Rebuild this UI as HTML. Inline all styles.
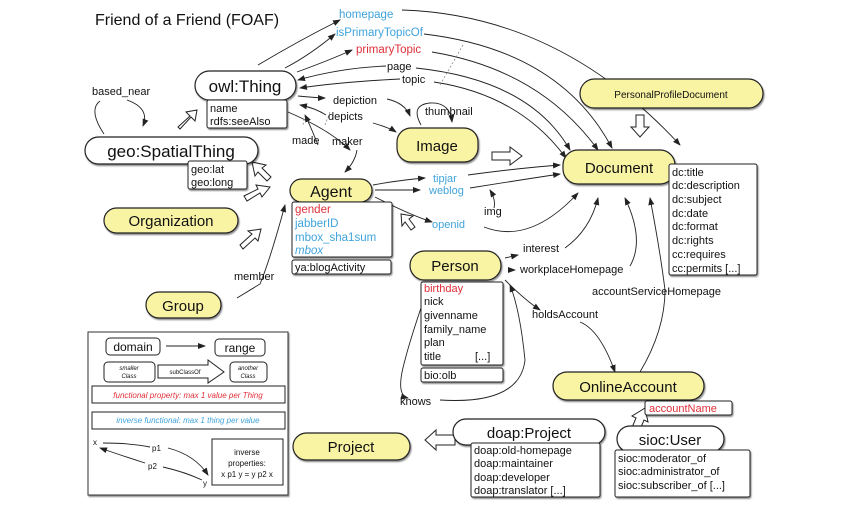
<!DOCTYPE html>
<html><head><meta charset="utf-8"><style>
html,body{margin:0;padding:0;background:#fff;}
svg{display:block;font-family:"Liberation Sans",sans-serif;}
.y{fill:#f9f4a4;stroke:#222;stroke-width:1.2}
.w{fill:#fff;stroke:#222;stroke-width:1.2}
.b{fill:#fff;stroke:#222;stroke-width:1}
.l{fill:none;stroke:#222;stroke-width:0.9}
.d{fill:none;stroke:#888;stroke-width:0.8;stroke-dasharray:2 2}
.h{fill:#fff;stroke:#222;stroke-width:1}
text{fill:#111}
.bl{fill:#3fa3dc}.rd{fill:#e0303a}
</style></head><body>
<svg width="850" height="518" viewBox="0 0 850 518" xmlns="http://www.w3.org/2000/svg">
<defs><marker id="a" markerWidth="8" markerHeight="8" refX="7" refY="4" orient="auto" markerUnits="userSpaceOnUse"><path d="M0,1 L8,4 L0,7 z" fill="#222"/></marker>
<filter id="s"><feDropShadow dx="1" dy="1.5" stdDeviation="0.8" flood-opacity="0.45"/></filter></defs>

<text x="95" y="25" font-size="16">Friend of a Friend (FOAF)</text>

<g class="l" marker-end="url(#a)">
<path d="M258,65 Q300,40 340,20"/>
<path d="M402,10 Q560,15 680,145"/>
<path d="M285,68 Q310,55 335,34"/>
<path d="M424,34 Q560,50 612,148"/>
<path d="M297,72 Q330,60 352,50"/>
<path d="M432,52 Q540,70 598,150"/>
<path d="M386,66 Q340,68 298,80"/>
<path d="M416,68 Q530,80 570,150"/>
<path d="M400,79 Q340,82 300,88"/>
<path d="M434,82 Q520,95 566,158"/>
<path d="M298,96 Q320,98 325,98"/>
<path d="M387,99 Q405,103 410,116"/>
<path d="M326,115 Q315,108 300,105"/>
<path d="M373,123 Q390,128 396,132"/>
<path d="M318,145 Q310,125 305,115"/>
<path d="M288,112 Q330,130 350,150"/>
<path d="M357,150 Q355,162 345,172"/>
<path d="M421,125 Q410,105 430,103 Q450,102 452,122"/>
<path d="M373,185 Q400,180 425,178"/>
<path d="M468,175 Q520,168 560,165"/>
<path d="M375,190 Q400,190 420,190"/>
<path d="M470,188 Q520,180 560,174"/>
<path d="M375,197 Q410,215 432,222"/>
<path d="M484,227 Q530,245 578,193"/>
<path d="M494,208 Q496,200 490,190"/>
<path d="M505,258 L518,255"/>
<path d="M565,248 Q590,230 598,198"/>
<path d="M508,270 L515,270"/>
<path d="M630,266 Q645,240 625,198"/>
<path d="M505,280 Q525,300 540,310"/>
<path d="M580,322 Q600,330 615,372"/>
<path d="M640,372 Q665,330 665,290 Q660,250 650,198"/>
<path d="M425,296 Q410,340 405,360 Q395,395 408,398"/>
<path d="M440,400 Q520,405 525,360 Q520,310 510,285"/>
<path d="M237,298 L260,284 Q270,260 285,205"/>
<path d="M127,100 Q150,108 143,126"/>
</g>
<path class="l" d="M104,134 Q88,110 100,101"/>
<path class="d" d="M463,45 L440,85"/>
<path class="d" d="M330,112 L325,125"/>
<path class="d" d="M305,115 L303,125"/>
<path class="d" d="M180,455 L176,475"/>

<text x="339" y="18" font-size="11.5" class="bl">homepage</text>
<text x="336" y="36" font-size="11.5" class="bl">isPrimaryTopicOf</text>
<text x="356" y="53" font-size="11.5" class="rd">primaryTopic</text>
<text x="387" y="70" font-size="11">page</text>
<text x="402" y="83" font-size="11">topic</text>
<text x="333" y="104" font-size="11">depiction</text>
<text x="328" y="120" font-size="11">depicts</text>
<text x="292" y="144" font-size="11">made</text>
<text x="332" y="145" font-size="11">maker</text>
<text x="425" y="115" font-size="11">thumbnail</text>
<text x="433" y="182" font-size="11" class="bl">tipjar</text>
<text x="429" y="194" font-size="11" class="bl">weblog</text>
<text x="432" y="228" font-size="11" class="bl">openid</text>
<text x="484" y="215" font-size="11">img</text>
<text x="523" y="252" font-size="11">interest</text>
<text x="520" y="273" font-size="11">workplaceHomepage</text>
<text x="592" y="295" font-size="11">accountServiceHomepage</text>
<text x="532" y="318" font-size="11">holdsAccount</text>
<text x="400" y="405" font-size="11">knows</text>
<text x="234" y="280" font-size="11">member</text>
<text x="92" y="95" font-size="11">based_near</text>

<g class="h">
<path d="M178,127 L190,116 L186,112 L197,110 L195,121 L191,117 L180,129 z"/>
<path d="M244,196 L258,189 L256,185 L270,187 L262,197 L260,193 L247,201 z"/>
<path d="M240,245 L252,234 L248,231 L261,229 L258,241 L255,238 L243,249 z"/>
<path d="M411,230 L405,222 L402,226 L401,214 L413,216 L409,219 L415,227 z"/>
<path d="M492,152 L510,152 L510,147 L522,156 L510,165 L510,160 L492,160 z"/>
<path d="M636,115 L644,115 L644,127 L649,127 L640,137 L631,127 L636,127 z"/>
<path d="M455,435 L436,435 L436,430 L425,440 L436,450 L436,445 L455,445 z"/>
<path d="M631,430 L636,418 L632,416 L645,408 L648,422 L644,420 L639,432 z"/>
<path d="M267,181 L258,172 L255,176 L252,162 L266,165 L262,168 L271,177 z"/>
</g>

<g filter="url(#s)">
<rect class="w" x="195" y="71" width="101" height="29" rx="14.5"/>
<rect class="b" x="207" y="100" width="80" height="28" rx="2"/>
<rect class="w" x="85" y="137" width="173" height="27" rx="13.5"/>
<rect class="b" x="188" y="161" width="59" height="28" rx="2"/>
<rect class="y" x="290" y="179" width="82" height="23" rx="11.5"/>
<rect class="b" x="292" y="202" width="100" height="55" rx="2"/>
<rect class="b" x="292" y="260" width="99" height="14" rx="2"/>
<rect class="y" x="104" y="208" width="134" height="25" rx="12.5"/>
<rect class="y" x="146" y="292" width="75" height="26" rx="13"/>
<rect class="y" x="397" y="128" width="81" height="34" rx="14"/>
<rect class="y" x="563" y="150" width="112" height="34" rx="15"/>
<rect class="b" x="669" y="164" width="88" height="111" rx="2"/>
<rect class="y" x="580" y="79" width="183" height="29" rx="14.5"/>
<rect class="y" x="410" y="251" width="91" height="29" rx="14.5"/>
<rect class="b" x="421" y="282" width="82" height="83" rx="2"/>
<rect class="b" x="421" y="368" width="82" height="14" rx="2"/>
<rect class="y" x="553" y="372" width="151" height="28" rx="14"/>
<rect class="b" x="645" y="401" width="87" height="14" rx="2"/>
<rect class="w" x="453" y="419" width="152" height="26" rx="13"/>
<rect class="b" x="471" y="443" width="129" height="54" rx="2"/>
<rect class="w" x="617" y="426" width="107" height="26" rx="13"/>
<rect class="b" x="615" y="450" width="135" height="47" rx="2"/>
<rect class="y" x="293" y="433" width="117" height="27" rx="13.5"/>
<rect x="88" y="332" width="200" height="163" fill="#fff" stroke="#333" stroke-width="1"/>
</g>

<text x="245" y="92" font-size="17" text-anchor="middle">owl:Thing</text>
<text x="210" y="112" font-size="11">name</text>
<text x="210" y="125" font-size="11">rdfs:seeAlso</text>
<text x="171" y="157" font-size="17" text-anchor="middle">geo:SpatialThing</text>
<text x="191" y="173" font-size="11">geo:lat</text>
<text x="191" y="186" font-size="11">geo:long</text>
<text x="331" y="197" font-size="16" text-anchor="middle">Agent</text>
<text x="295" y="213" font-size="11.5" class="rd">gender</text>
<text x="295" y="227" font-size="11.5" class="bl">jabberID</text>
<text x="295" y="241" font-size="11.5" class="bl">mbox_sha1sum</text>
<text x="295" y="254" font-size="11.5" class="bl" font-style="italic">mbox</text>
<text x="295" y="271" font-size="11">ya:blogActivity</text>
<text x="171" y="226" font-size="15" text-anchor="middle">Organization</text>
<text x="183" y="311" font-size="15" text-anchor="middle">Group</text>
<text x="437" y="151" font-size="15" text-anchor="middle">Image</text>
<text x="619" y="173" font-size="15" text-anchor="middle">Document</text>
<g font-size="11"><text x="672" y="176">dc:title</text><text x="672" y="189">dc:description</text><text x="672" y="203">dc:subject</text><text x="672" y="217">dc:date</text><text x="672" y="230">dc:format</text><text x="672" y="244">dc:rights</text><text x="672" y="258">cc:requires</text><text x="672" y="272">cc:permits [...]</text></g>
<text x="671" y="98" font-size="10" text-anchor="middle">PersonalProfileDocument</text>
<text x="455" y="271" font-size="15" text-anchor="middle">Person</text>
<g font-size="11"><text x="424" y="292" class="rd">birthday</text><text x="424" y="305">nick</text><text x="424" y="319">givenname</text><text x="424" y="333">family_name</text><text x="424" y="346">plan</text><text x="424" y="360">title</text><text x="475" y="360">[...]</text><text x="424" y="379">bio:olb</text></g>
<text x="628" y="392" font-size="15" text-anchor="middle">OnlineAccount</text>
<text x="649" y="412" font-size="11" class="rd">accountName</text>
<text x="529" y="438" font-size="15" text-anchor="middle">doap:Project</text>
<g font-size="11"><text x="474" y="454">doap:old-homepage</text><text x="474" y="467">doap:maintainer</text><text x="474" y="481">doap:developer</text><text x="474" y="494">doap:translator [...]</text></g>
<text x="670" y="445" font-size="15" text-anchor="middle">sioc:User</text>
<g font-size="11"><text x="618" y="462">sioc:moderator_of</text><text x="618" y="475">sioc:administrator_of</text><text x="618" y="489">sioc:subscriber_of [...]</text></g>
<text x="351" y="452" font-size="15" text-anchor="middle">Project</text>

<rect class="b" x="106" y="338" width="54" height="17" rx="4"/>
<text x="133" y="351" font-size="12" text-anchor="middle">domain</text>
<path class="l" d="M166,346 L205,346" marker-end="url(#a)"/>
<rect class="b" x="215" y="339" width="50" height="17" rx="4"/>
<text x="240" y="352" font-size="12" text-anchor="middle">range</text>
<rect class="b" x="104" y="362" width="51" height="20" rx="4"/>
<text x="129" y="370" font-size="6" font-style="italic" text-anchor="middle">smaller</text>
<text x="129" y="378" font-size="6" font-style="italic" text-anchor="middle">Class</text>
<path class="h" d="M158,365 L208,365 L208,360 L224,372 L208,383 L208,378 L158,378 z"/>
<text x="185" y="374" font-size="6" text-anchor="middle">subClassOf</text>
<rect class="b" x="230" y="362" width="37" height="20" rx="4"/>
<text x="248" y="370" font-size="6" font-style="italic" text-anchor="middle">another</text>
<text x="248" y="378" font-size="6" font-style="italic" text-anchor="middle">Class</text>
<rect class="b" x="92" y="386" width="193" height="17"/>
<text x="188" y="398" font-size="8" class="rd" font-style="italic" text-anchor="middle">functional property: max 1 value per Thing</text>
<rect class="b" x="92" y="412" width="193" height="17"/>
<text x="188" y="423" font-size="8" class="bl" font-style="italic" text-anchor="middle">inverse functional: max 1 thing per value</text>
<rect class="b" x="212" y="439" width="71" height="46"/>
<g font-size="8" text-anchor="middle"><text x="247" y="455">inverse</text><text x="247" y="466">properties:</text><text x="247" y="477">x p1 y = y p2 x</text></g>
<text x="93" y="445" font-size="8">x</text><text x="203" y="486" font-size="8">y</text>
<text x="152" y="451" font-size="8">p1</text><text x="148" y="469" font-size="8">p2</text>
<path class="l" d="M103,443 Q130,443 150,447"/>
<path class="l" d="M168,448 Q195,455 208,475" marker-end="url(#a)"/>
<path class="l" d="M145,463 Q120,455 100,448" marker-end="url(#a)"/>
<path class="l" d="M163,467 Q185,472 202,480"/>
</svg>
</body></html>
